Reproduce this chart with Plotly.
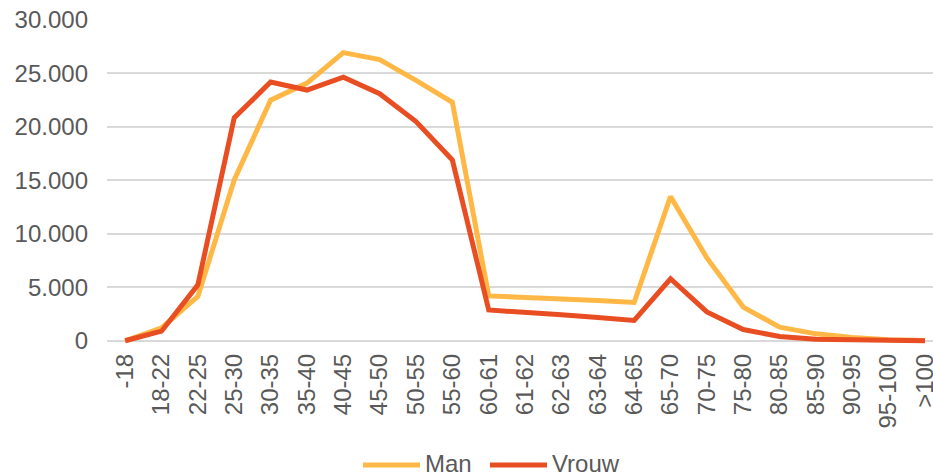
import plotly.graph_objects as go

categories = ["-18", "18-22", "22-25", "25-30", "30-35", "35-40", "40-45", "45-50",
              "50-55", "55-60", "60-61", "61-62", "62-63", "63-64", "64-65", "65-70",
              "70-75", "75-80", "80-85", "85-90", "90-95", "95-100", ">100"]
man = [0, 1200, 4150, 15050, 22500, 24100, 26950, 26300, 24350, 22300, 4200, 4080,
       3990, 3770, 3580, 13500, 7750, 3150, 1280, 650, 300, 100, 20]
vrouw = [0, 900, 5230, 20850, 24200, 23450, 24650, 23100, 20500, 16900, 2880, 2600,
         2430, 2180, 1900, 5800, 2700, 1050, 400, 150, 80, 30, 10]
y_ticks = [0, 5000, 10000, 15000, 20000, 25000, 30000]
y_tick_labels = ["0", "5.000", "10.000", "15.000", "20.000", "25.000", "30.000"]
series_names = ["Man", "Vrouw"]
series_colors = ["#FFB845", "#E84E22"]

FONT = "Liberation Sans, Arial, sans-serif"
GREY = "#595959"
W, H = 933, 476
ML, MR, MT, MB = 107, 0, 20, 132
PW, PH = W - ML - MR, H - MT - MB


def px_x(px):
    return (px - ML) / PW


def px_y(py):
    return (H - MB - py) / PH


fig = go.Figure()
for name, vals, col in zip(series_names, [man, vrouw], series_colors):
    fig.add_trace(go.Scatter(x=categories, y=vals, name=name, mode="lines",
                             line=dict(color=col, width=5), showlegend=False))

# legend drawn manually (long line symbols like the reference)
legend_items = [(363, 420, 423), (490, 547, 550)]
shapes, annotations = [], []
for (x0, x1, tx), name, col in zip(legend_items, series_names, series_colors):
    shapes.append(dict(type="line", xref="paper", yref="paper",
                       x0=px_x(x0), x1=px_x(x1), y0=px_y(465), y1=px_y(465),
                       line=dict(color=col, width=5)))
    annotations.append(dict(text=name, xref="paper", yref="paper", x=px_x(tx),
                            y=px_y(464), xanchor="left", yanchor="middle",
                            showarrow=False,
                            font=dict(family=FONT, size=24, color=GREY)))

fig.update_layout(
    width=W, height=H,
    margin=dict(l=ML, r=MR, t=MT, b=MB),
    paper_bgcolor="white", plot_bgcolor="white",
    font=dict(family=FONT, size=24, color=GREY),
    showlegend=False,
    shapes=shapes, annotations=annotations,
    xaxis=dict(type="category", range=[-0.5, 22.22], showgrid=False, zeroline=False,
               showline=False, ticks="", tickangle=-90, ticklabelstandoff=4,
               automargin=False,
               tickfont=dict(family=FONT, size=24, color=GREY)),
    yaxis=dict(range=[-300, 30000], tickvals=y_ticks, ticktext=y_tick_labels,
               showgrid=True, gridcolor="#D9D9D9", gridwidth=1.5, zeroline=False,
               showline=False, ticks="", ticklabelstandoff=18, automargin=False,
               tickfont=dict(family=FONT, size=24, color=GREY)),
)

fig.write_html("out.html", config={"displayModeBar": False},
               post_script="document.body.style.margin='0';document.body.style.overflow='hidden';")
